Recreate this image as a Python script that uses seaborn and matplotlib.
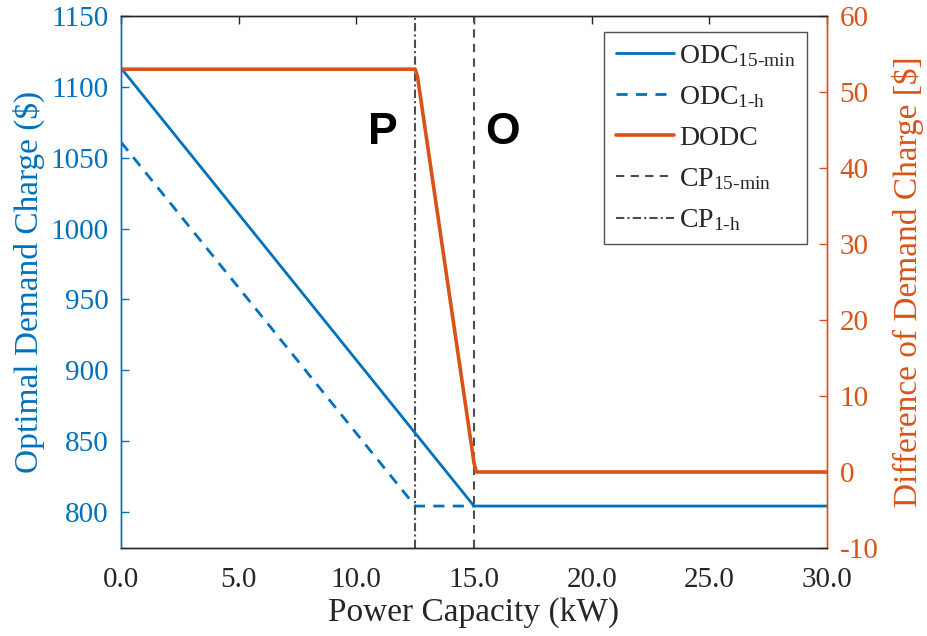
import numpy as np
import pandas as pd
import matplotlib
matplotlib.use("Agg")
import matplotlib.pyplot as plt
import seaborn as sns
from matplotlib.lines import Line2D

# Data
odc15_x = [0.0, 15.0, 30.0]
odc15_y = [1113.3, 804.2, 804.2]
odc1h_x = [0.0, 12.5, 15.0]
odc1h_y = [1061.0, 804.2, 804.2]
dodc_x = [0.0, 12.5, 12.6, 15.0, 15.1, 30.0]
dodc_y = [53.0, 53.0, 52.0, 1.2, 0.0, 0.0]
cp15_x = 15.0
cp1h_x = 12.5
x_ticks = [0, 5, 10, 15, 20, 25, 30]
left_ticks = [800, 850, 900, 950, 1000, 1050, 1100, 1150]
right_ticks = [-10, 0, 10, 20, 30, 40, 50, 60]

sns.set_theme(style="white")
plt.rcParams['font.family'] = ['Liberation Serif', 'DejaVu Serif']
plt.rcParams['mathtext.fontset'] = 'custom'
plt.rcParams['mathtext.rm'] = 'Liberation Serif'
plt.rcParams['mathtext.it'] = 'Liberation Serif:italic'
plt.rcParams['mathtext.bf'] = 'Liberation Serif:bold'
plt.rcParams['axes.unicode_minus'] = False

BLUE = '#0072BD'
ORANGE = '#D95319'
GRAY = '#4d4d4d'
DARK = '#262626'

fig = plt.figure(figsize=(9.27, 6.36), dpi=100)
ax = fig.add_axes([121/927, 1-548/636, (827-121)/927, (548-16)/636])
ax2 = ax.twinx()

df15 = pd.DataFrame({'x': odc15_x, 'y': odc15_y})
df1h = pd.DataFrame({'x': odc1h_x, 'y': odc1h_y})
dfd = pd.DataFrame({'x': dodc_x, 'y': dodc_y})

sns.lineplot(data=df15, x='x', y='y', ax=ax, color=BLUE, lw=2.0)
sns.lineplot(data=df1h, x='x', y='y', ax=ax, color=BLUE, lw=2.0, linestyle=(0, (4, 3)))
ax.axvline(cp15_x, color=GRAY, lw=1.5, linestyle=(0, (4, 3)))
ax.axvline(cp1h_x, color=GRAY, lw=1.5, linestyle=(0, (4, 1.5, 1, 1.5)))
sns.lineplot(data=dfd, x='x', y='y', ax=ax2, color=ORANGE, lw=2.6)

ax.set_xlim(0, 30)
ax.set_ylim(774.6, 1150)
ax2.set_ylim(-10, 60)
ax.set_xticks(x_ticks)
ax.set_xticklabels([f"{v:.1f}" for v in x_ticks])
ax.set_yticks(left_ticks)
ax2.set_yticks(right_ticks)

fs = 21
ax.set_xlabel("Power Capacity (kW)", fontsize=24, color=DARK, labelpad=3)
ax.set_ylabel("Optimal Demand Charge ($)", fontsize=24, color=BLUE, labelpad=4)
ax2.set_ylabel("Difference of Demand Charge [$]", fontsize=24, color=ORANGE, labelpad=10)

ax.tick_params(axis='x', colors=DARK, labelsize=fs, direction='in', length=6, top=True, width=1, pad=14)
ax.tick_params(axis='y', colors=BLUE, labelsize=fs, direction='in', length=6, width=1, pad=9)
ax2.tick_params(axis='y', colors=ORANGE, labelsize=fs, direction='in', length=6, width=1, pad=9)

for a in (ax, ax2):
    a.spines['top'].set_color(DARK)
    a.spines['bottom'].set_color(DARK)
    a.spines['left'].set_color(BLUE)
    a.spines['right'].set_color(ORANGE)
    for s in a.spines.values():
        s.set_linewidth(1.0)

ax.text(11.13, 1068, "P", fontsize=32, fontweight='bold', family=['Liberation Sans'], ha='center', va='center', color='black')
ax.text(16.19, 1068, "O", fontsize=32, fontweight='bold', family=['Liberation Sans'], ha='center', va='center', color='black')

handles = [
    Line2D([], [], color=BLUE, lw=2.0),
    Line2D([], [], color=BLUE, lw=2.0, linestyle=(0, (4, 3))),
    Line2D([], [], color=ORANGE, lw=2.6),
    Line2D([], [], color=GRAY, lw=1.5, linestyle=(0, (4, 3))),
    Line2D([], [], color=GRAY, lw=1.5, linestyle=(0, (4, 1.5, 1, 1.5))),
]
labels = [r"ODC$_{\mathrm{15\text{-}min}}$", r"ODC$_{\mathrm{1\text{-}h}}$", "DODC",
          r"CP$_{\mathrm{15\text{-}min}}$", r"CP$_{\mathrm{1\text{-}h}}$"]
for a in (ax, ax2):
    if a.get_legend():
        a.get_legend().remove()
leg = ax2.legend(handles, labels, loc='upper right', bbox_to_anchor=(0.972, 0.97),
                 fontsize=20, frameon=True, fancybox=False, edgecolor=DARK,
                 handlelength=2.1, labelspacing=0.55, borderpad=0.4, handletextpad=0.2,
                 borderaxespad=0.0)
leg.get_frame().set_linewidth(1.0)

fig.savefig("out.png", dpi=100)
